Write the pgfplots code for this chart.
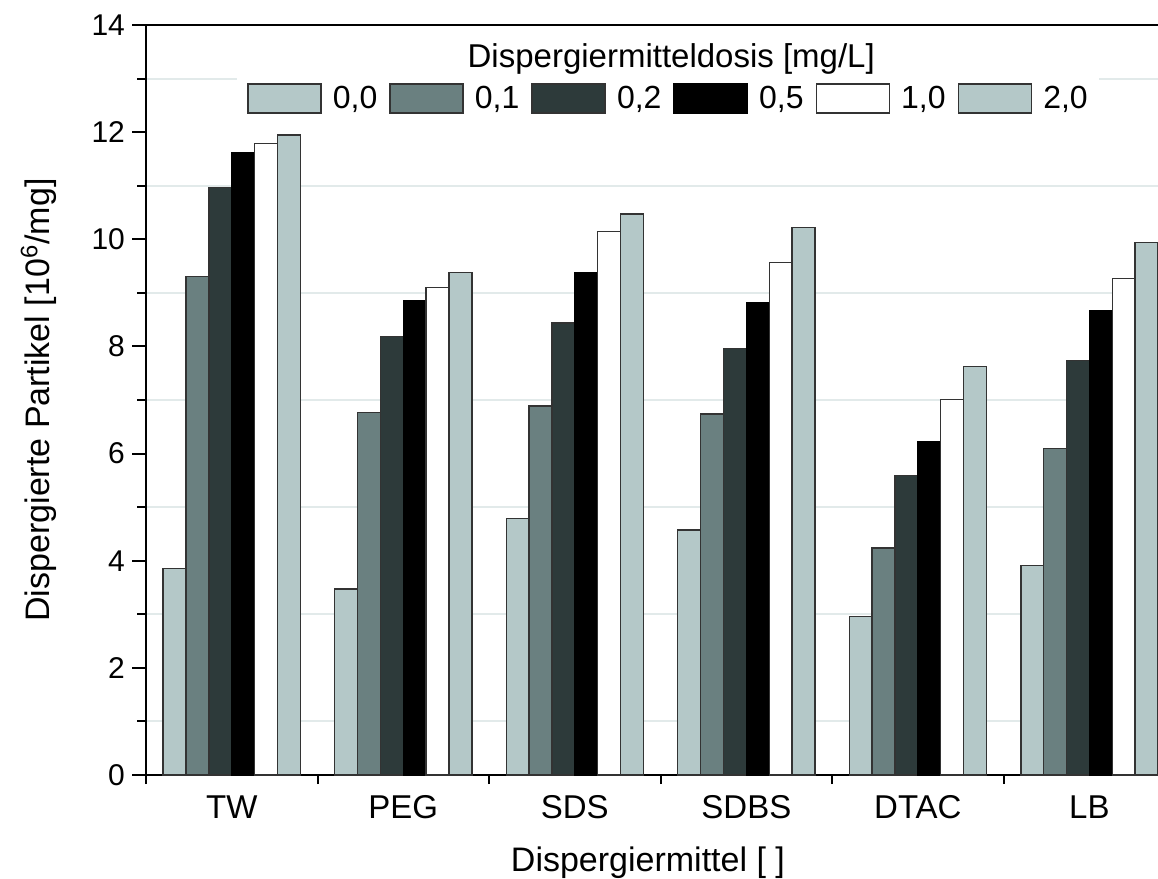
\documentclass[border=0pt]{standalone}
\usepackage{fontspec}
\setmainfont{Liberation Sans}
\usepackage{pgfplots}
\usepackage{pgfplotstable}
\pgfplotsset{compat=1.18}

\definecolor{lightbar}{RGB}{180,200,200}
\definecolor{midbar}{RGB}{106,128,128}
\definecolor{darkbar}{RGB}{45,58,58}
\definecolor{gridc}{RGB}{226,234,234}

% dispersed particles [10^6/mg] per dispersant and dose
\pgfplotstableread{
x d00 d01 d02 d05 d10 d20
0 3.85 9.30 10.97 11.61 11.79 11.95
1 3.47 6.77 8.19 8.85 9.10 9.38
2 4.79 6.89 8.44 9.38 10.15 10.47
3 4.57 6.74 7.96 8.82 9.57 10.22
4 2.96 4.24 5.59 6.23 7.01 7.63
5 3.91 6.09 7.74 8.67 9.27 9.94
}\dispdata

\pgfplotsset{swatch/.style={legend image code/.code={%
  \draw[##1, line width=0.8pt] (0pt,-7.25pt) rectangle (36.5pt,7.25pt);}}}

\begin{document}
\begin{tikzpicture}
\begin{axis}[
  scale only axis,
  width=506pt, height=375pt,
  xmin=-0.5, xmax=5.40,
  ymin=0, ymax=14,
  axis x line*=box, axis y line*=left,
  axis line style={line width=1pt, black},
  ybar=0pt, bar width=0.1333,
  tick align=outside,
  xtick pos=left, ytick pos=left,
  xtick={0,...,5},
  xticklabels={TW,PEG,SDS,SDBS,DTAC,LB},
  minor xtick={-0.5,0.5,1.5,2.5,3.5,4.5},
  every major x tick/.append style={draw=none},
  ytick={0,2,...,14},
  minor ytick={1,3,...,13},
  yminorgrids=true,
  minor y grid style={gridc, line width=1pt},
  major tick length=7pt, minor tick length=4.5pt,
  tick style={black, line width=1pt},
  /pgf/number format/assume math mode=true,
  yticklabel style={font=\fontsize{15}{18}\selectfont},
  xticklabel style={font=\fontsize{16.5}{19}\selectfont, anchor=base, yshift=-14.5pt},
  xlabel={Dispergiermittel [ ]},
  ylabel={Dispergierte Partikel [10\textsuperscript{6}/mg]},
  xlabel style={at={(axis description cs:0.496,-0.1293)}, anchor=base, inner sep=0pt, font=\fontsize{17}{20}\selectfont},
  ylabel style={at={(axis description cs:-0.0949,0.5)}, anchor=base, font=\fontsize{17}{20}\selectfont},
  legend columns=6,
  legend style={at={(axis description cs:0.5153,0.902)}, anchor=center,
    draw=none, fill=white, inner xsep=5pt, inner ysep=3pt,
    font=\fontsize{16}{19}\selectfont, nodes={inner sep=0pt},
    /tikz/every odd column/.append style={column sep=5.5pt},
    /tikz/every even column/.append style={column sep=6pt}},
  every axis plot post/.append style={swatch},
]
\addplot[fill=lightbar, draw=black!80, line width=0.7pt, bar shift=-0.3333] table[x=x, y=d00] {\dispdata};
\addlegendentry{0,0}
\addplot[fill=midbar, draw=black!80, line width=0.7pt, bar shift=-0.2] table[x=x, y=d01] {\dispdata};
\addlegendentry{0,1}
\addplot[fill=darkbar, draw=black!80, line width=0.7pt, bar shift=-0.0667] table[x=x, y=d02] {\dispdata};
\addlegendentry{0,2}
\addplot[fill=black, draw=black, line width=0.7pt, bar shift=0.0667] table[x=x, y=d05] {\dispdata};
\addlegendentry{0,5}
\addplot[fill=white, draw=black!80, line width=0.7pt, bar shift=0.2] table[x=x, y=d10] {\dispdata};
\addlegendentry{1,0}
\addplot[fill=lightbar, draw=black!80, line width=0.7pt, bar shift=0.3333] table[x=x, y=d20] {\dispdata};
\addlegendentry{2,0}
\node[anchor=base, fill=white, inner xsep=0pt, inner ysep=3pt, minimum width=428pt,
  font=\fontsize{16.5}{19}\selectfont] at (axis description cs:0.519,0.9427) {Dispergiermitteldosis [mg/L]};
\end{axis}
\pgfresetboundingbox
\path[use as bounding box] ([xshift=-73pt,yshift=-51.5pt]current axis.south west)
  rectangle ([yshift=12.5pt]current axis.north east);
\end{tikzpicture}
\end{document}
